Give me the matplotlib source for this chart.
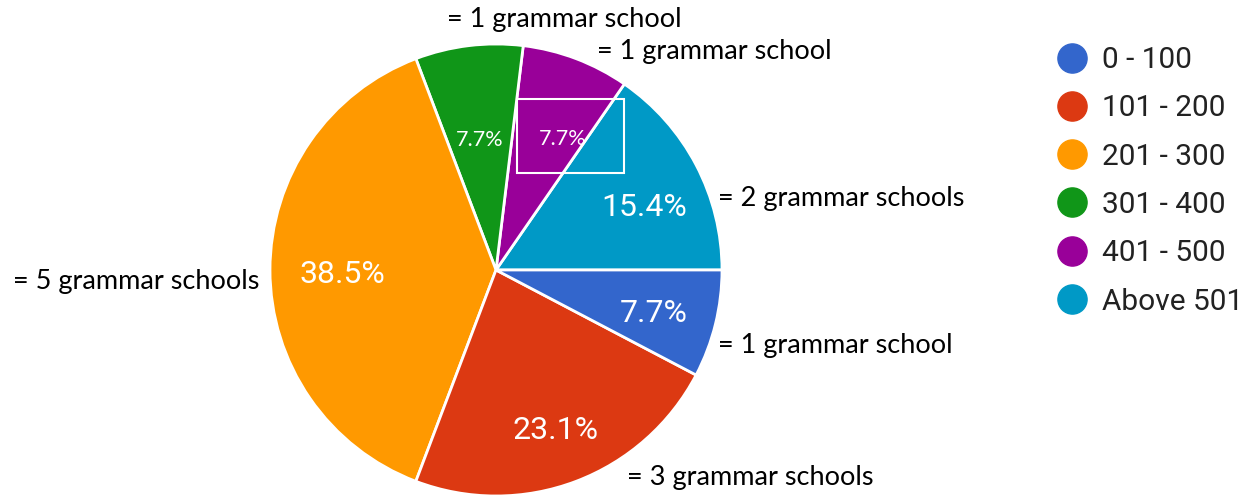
import matplotlib
matplotlib.use("Agg")
import matplotlib.pyplot as plt
from matplotlib.lines import Line2D
from matplotlib.patches import Rectangle
import numpy as np

# ---- data ----
categories = ["0 - 100", "101 - 200", "201 - 300", "301 - 400", "401 - 500", "Above 501"]
percent = [7.7, 23.1, 38.5, 7.7, 7.7, 15.4]
colors = ["#3366cc", "#dc3912", "#ff9900", "#109618", "#990099", "#0099c6"]
notes = ["= 1 grammar school", "= 3 grammar schools", "= 5 grammar schools",
         "= 1 grammar school", "= 1 grammar school", "= 2 grammar schools"]

W, H = 1247, 498
fig = plt.figure(figsize=(W / 100, H / 100), dpi=100)

def px(x, y):
    return (x / W, 1 - y / H)

# pie axes: centre (496, 270), radius 226 px
cx, cy, r = 496, 270, 226
ax = fig.add_axes([(cx - r) / W, (H - cy - r) / H, 2 * r / W, 2 * r / H])

# draw in reverse order counter-clockwise from 3 o'clock
order = list(range(len(categories)))[::-1]
vals = [percent[i] for i in order]
cols = [colors[i] for i in order]
wedges, _ = ax.pie(vals, colors=cols, startangle=0, counterclock=True, radius=1,
                   wedgeprops=dict(edgecolor="white", linewidth=2))
ax.set_xlim(-1, 1)
ax.set_ylim(-1, 1)
ax.set_aspect("equal")
ax.axis("off")

label_r = {0: 0.72, 1: 0.74, 2: 0.68, 3: 0.59, 4: 0.66, 5: 0.72}
ang_shift = {4: -6, 5: -3.5}
for w, i in zip(wedges, order):
    ang = np.deg2rad((w.theta1 + w.theta2) / 2 + ang_shift.get(i, 0))
    rr = label_r[i]
    x, y = rr * np.cos(ang), rr * np.sin(ang)
    if i in (3, 4):
        ax.text(x, y - 0.01, f"{percent[i]}%", color="white", fontsize=15.5,
                family="Lato", ha="center", va="center")
    else:
        ax.text(x, y - 0.02, f"{percent[i]}%", color="white", fontsize=23,
                family="Roboto", ha="center", va="center")

# white box around the 401-500 label
x0, x1 = (517 - cx) / r, (624 - cx) / r
y0, y1 = (cy - 173) / r, (cy - 99) / r
ax.add_patch(Rectangle((x0, y0), x1 - x0, y1 - y0, fill=False,
                       edgecolor="white", linewidth=1.5, zorder=5))

# annotations
ann_pos = {0: (718, 346), 1: (627, 478), 2: (13, 281),
           3: (447, 19), 4: (597, 51), 5: (718, 198)}
for i, (x, y) in ann_pos.items():
    fig.text(*px(x, y), notes[i], fontsize=19.5, family="Lato", color="black",
             ha="left", va="center")

# legend
handles = [Line2D([], [], marker="o", linestyle="", markersize=21,
                  markerfacecolor=c, markeredgecolor=c) for c in colors]
leg = fig.legend(handles, categories, loc="upper left",
                 bbox_to_anchor=px(1054, 46), frameon=False,
                 prop=dict(family="Roboto", size=21.5), labelcolor="#222222",
                 handletextpad=0.4, labelspacing=0.68, handlelength=1.2,
                 borderaxespad=0, borderpad=0)

fig.savefig("out.png", dpi=100)
